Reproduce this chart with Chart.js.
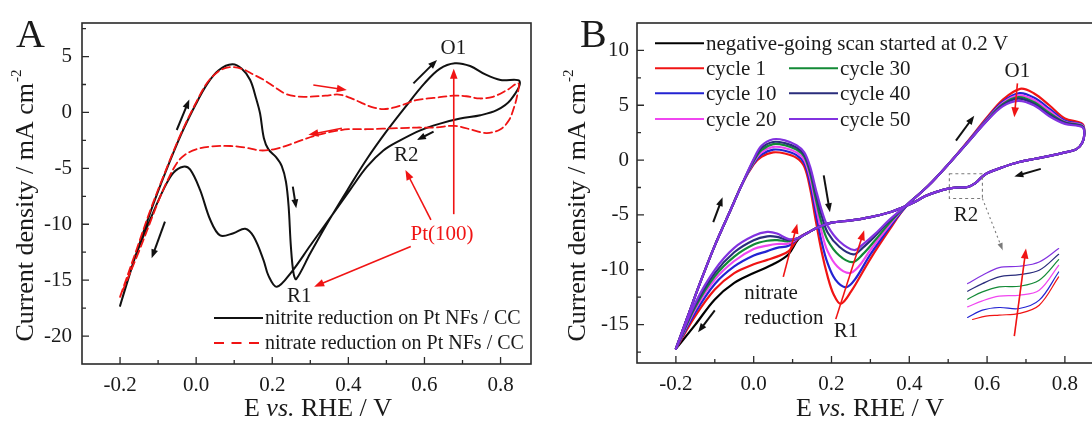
<!DOCTYPE html>
<html>
<head>
<meta charset="utf-8">
<script src="https://cdn.jsdelivr.net/npm/chart.js@4.4.0/dist/chart.umd.min.js"></script>
<style>
  html, body { margin: 0; padding: 0; background: #fff; overflow: hidden; width: 1092px; height: 421px; }
  #cvA { position: absolute; left: 0; top: 0; }
  #cvB { position: absolute; left: 546px; top: 0; }
</style>
</head>
<body>
<canvas id="cvA" width="546" height="421"></canvas>
<canvas id="cvB" width="560" height="421"></canvas>
<script>
// ---- axis ticks (shared by both panels) ----
const xTicks = [-0.2, 0, 0.2, 0.4, 0.6, 0.8];
const xMinor = [-0.1, 0.1, 0.3, 0.5, 0.7];
const yTicksA = [-20, -15, -10, -5, 0, 5];
const yMinorA = [-17.5, -12.5, -7.5, -2.5, 2.5, 7.5];
const yTicksB = [-15, -10, -5, 0, 5, 10];
const yMinorB = [-17.5, -12.5, -7.5, -2.5, 2.5, 7.5];

// ---- panel A: E (V vs RHE), j (mA cm-2) ----
const namesA = ["nitrite reduction on Pt NFs / CC", "nitrate reduction on Pt NFs / CC"];
const nitriteA = [
  [-0.2, -17.3], [-0.16, -12.9], [-0.12, -8.9], [-0.08, -5.3], [-0.04, -2.0], [0.0, 0.8],
  [0.03, 2.6], [0.06, 3.8], [0.095, 4.3], [0.12, 3.9], [0.142, 2.9], [0.158, 1.2], [0.168, -0.1],
  [0.178, -2.3], [0.19, -3.3], [0.21, -4.0], [0.225, -4.8], [0.236, -6.2], [0.243, -8.4],
  [0.249, -12.0], [0.256, -14.4], [0.263, -14.9], [0.3, -12.6], [0.35, -9.6], [0.4, -6.8],
  [0.45, -4.1], [0.5, -1.7], [0.55, 0.5], [0.6, 2.6], [0.64, 3.9], [0.68, 4.4], [0.72, 4.15],
  [0.76, 3.4], [0.8, 2.9], [0.85, 2.8],
  [0.826, 1.1], [0.79, 0.2], [0.747, -0.25], [0.694, -0.55], [0.641, -1.0], [0.589, -1.6],
  [0.536, -2.5], [0.492, -3.4], [0.449, -4.85], [0.405, -6.9], [0.361, -9.0], [0.3, -11.9],
  [0.25, -14.3], [0.212, -15.6], [0.19, -14.6], [0.177, -13.2], [0.151, -11.1], [0.129, -10.4],
  [0.098, -10.8], [0.063, -11.0], [0.037, -9.6], [0.01, -6.9], [-0.016, -5.1], [-0.034, -4.85],
  [-0.06, -5.4], [-0.086, -6.9], [-0.121, -9.6], [-0.165, -13.4], [-0.2, -17.3]
];
const nitrateA = [
  [-0.2, -16.5], [-0.16, -12.6], [-0.12, -8.7], [-0.08, -5.2], [-0.04, -1.9], [0.0, 0.9],
  [0.03, 2.7], [0.06, 3.7], [0.088, 4.05], [0.12, 3.9], [0.15, 3.4], [0.178, 2.9], [0.205, 2.3],
  [0.233, 1.7], [0.26, 1.45], [0.29, 1.4], [0.34, 1.5], [0.375, 1.6], [0.405, 1.3], [0.432, 0.9],
  [0.46, 0.5], [0.49, 0.3], [0.515, 0.4], [0.545, 0.7], [0.578, 1.1], [0.624, 1.3], [0.677, 1.5],
  [0.71, 1.45], [0.745, 1.25], [0.78, 1.4], [0.817, 2.0], [0.847, 2.6],
  [0.843, 1.4], [0.834, 0.3], [0.822, -0.7], [0.8, -1.5], [0.764, -1.85], [0.73, -1.6],
  [0.68, -1.2], [0.63, -1.35], [0.58, -1.35], [0.536, -1.4], [0.49, -1.45], [0.449, -1.5],
  [0.4, -1.5], [0.36, -1.7], [0.31, -2.1], [0.26, -2.7], [0.21, -3.25], [0.17, -3.4],
  [0.13, -3.15], [0.09, -3.0], [0.04, -3.05], [0.0, -3.3], [-0.03, -3.8], [-0.05, -4.5],
  [-0.077, -6.2], [-0.1, -8.0], [-0.15, -12.4], [-0.2, -16.5]
];

// ---- panel B ----
const namesB = ["negative-going scan started at 0.2 V", "cycle 1", "cycle 10", "cycle 20",
  "cycle 30", "cycle 40", "cycle 50"];
const riseB = [[-0.2, -17.2], [-0.17, -14.3], [-0.14, -11.4], [-0.1, -7.8], [-0.06, -4.6], [-0.03, -2.2]];
const returnB = [
  [0.85, 2.4], [0.845, 1.6], [0.83, 1.0], [0.8, 0.7], [0.77, 0.45], [0.72, 0.1], [0.68, -0.2],
  [0.64, -0.65], [0.6, -1.2], [0.585, -1.6], [0.57, -2.1], [0.55, -2.45], [0.525, -2.5],
  [0.5, -2.6], [0.47, -2.9], [0.44, -3.3], [0.415, -3.8], [0.39, -4.2], [0.35, -4.75],
  [0.3, -5.2], [0.25, -5.5], [0.2, -5.7], [0.17, -6.05], [0.14, -6.6], [0.115, -7.1]
];
const c1Up = [[0.0, -0.4], [0.02, 0.3], [0.05, 0.7], [0.08, 0.6], [0.11, 0.2], [0.13, -0.6], [0.145, -2.6],
  [0.16, -5.6], [0.175, -8.4], [0.19, -10.6], [0.205, -12.2], [0.224, -13.1], [0.25, -12.0], [0.3, -9.0],
  [0.35, -6.3], [0.39, -4.3], [0.45, -2.3], [0.5, -0.4], [0.55, 1.7], [0.6, 3.9], [0.64, 5.5],
  [0.685, 6.5], [0.72, 6.1], [0.76, 5.0], [0.8, 3.8], [0.845, 3.3]];
const c10Up = [[0.0, -0.3], [0.02, 0.5], [0.05, 0.95], [0.08, 0.85], [0.11, 0.45], [0.13, -0.3], [0.145, -2.1],
  [0.16, -4.9], [0.175, -7.5], [0.19, -9.4], [0.21, -10.9], [0.237, -11.6], [0.26, -10.9], [0.3, -8.6],
  [0.35, -6.1], [0.39, -4.3], [0.45, -2.3], [0.5, -0.4], [0.55, 1.65], [0.6, 3.8], [0.64, 5.3],
  [0.683, 6.1], [0.72, 5.7], [0.76, 4.7], [0.8, 3.6], [0.845, 3.2]];
const c20Up = [[0.0, -0.2], [0.02, 0.7], [0.05, 1.2], [0.08, 1.1], [0.11, 0.7], [0.13, 0.0], [0.145, -1.6],
  [0.16, -4.2], [0.175, -6.6], [0.19, -8.3], [0.215, -9.7], [0.246, -10.3], [0.27, -9.7], [0.3, -8.2],
  [0.35, -5.9], [0.39, -4.2], [0.45, -2.3], [0.5, -0.4], [0.55, 1.6], [0.6, 3.7], [0.64, 5.2],
  [0.682, 5.9], [0.72, 5.5], [0.76, 4.5], [0.8, 3.5], [0.845, 3.15]];
const c30Up = [[0.0, -0.1], [0.02, 0.9], [0.05, 1.45], [0.08, 1.35], [0.11, 0.95], [0.13, 0.3], [0.145, -1.2],
  [0.16, -3.6], [0.175, -5.8], [0.19, -7.3], [0.22, -8.7], [0.254, -9.3], [0.28, -8.6], [0.31, -7.4],
  [0.35, -5.7], [0.39, -4.2], [0.45, -2.3], [0.5, -0.4], [0.55, 1.6], [0.6, 3.65], [0.64, 5.1],
  [0.681, 5.75], [0.72, 5.3], [0.76, 4.3], [0.8, 3.45], [0.845, 3.1]];
const c40Up = [[0.0, 0.0], [0.02, 1.1], [0.05, 1.65], [0.08, 1.55], [0.11, 1.15], [0.13, 0.5], [0.145, -0.9],
  [0.16, -3.1], [0.175, -5.1], [0.19, -6.6], [0.22, -7.9], [0.256, -8.6], [0.28, -8.0], [0.31, -7.0],
  [0.35, -5.5], [0.39, -4.2], [0.45, -2.3], [0.5, -0.4], [0.55, 1.6], [0.6, 3.6], [0.64, 5.0],
  [0.68, 5.6], [0.72, 5.15], [0.76, 4.15], [0.8, 3.4], [0.845, 3.05]];
const c50Up = [[0.0, 0.1], [0.02, 1.3], [0.05, 1.9], [0.08, 1.8], [0.11, 1.35], [0.13, 0.7], [0.145, -0.6],
  [0.16, -2.7], [0.175, -4.6], [0.19, -6.0], [0.22, -7.4], [0.258, -8.2], [0.28, -7.7], [0.31, -6.8],
  [0.35, -5.4], [0.39, -4.2], [0.45, -2.3], [0.5, -0.4], [0.55, 1.6], [0.6, 3.6], [0.64, 4.9],
  [0.68, 5.4], [0.72, 5.0], [0.76, 4.0], [0.8, 3.3], [0.845, 3.0]];
const c1Low = [[0.09, -8.3], [0.06, -8.8], [0.035, -9.1], [0.0, -9.5], [-0.05, -10.3], [-0.1, -11.8], [-0.15, -14.2], [-0.2, -17.2]];
const c10Low = [[0.09, -7.8], [0.06, -8.0], [0.035, -8.3], [0.0, -8.7], [-0.05, -9.7], [-0.1, -11.3], [-0.15, -13.9], [-0.2, -17.2]];
const c20Low = [[0.09, -7.6], [0.06, -7.65], [0.035, -7.8], [0.0, -8.1], [-0.05, -9.2], [-0.1, -10.9], [-0.15, -13.6], [-0.2, -17.2]];
const c30Low = [[0.09, -7.4], [0.06, -7.3], [0.035, -7.35], [0.0, -7.7], [-0.05, -8.8], [-0.1, -10.6], [-0.15, -13.4], [-0.2, -17.2]];
const c40Low = [[0.09, -7.3], [0.06, -7.0], [0.035, -6.95], [0.0, -7.3], [-0.05, -8.4], [-0.1, -10.3], [-0.15, -13.2], [-0.2, -17.2]];
const c50Low = [[0.09, -7.2], [0.06, -6.7], [0.035, -6.55], [0.0, -6.9], [-0.05, -8.0], [-0.1, -10.0], [-0.15, -13.0], [-0.2, -17.2]];
const blackScanB = [[0.2, -5.7], [0.17, -6.05], [0.14, -6.6], [0.115, -7.2], [0.089, -8.6], [0.05, -9.5],
  [0.0, -10.3], [-0.05, -11.2], [-0.1, -12.7], [-0.15, -15.0], [-0.2, -17.2]];
// zoomed R2 region drawn as an inset inside panel B
const inset1 = [[0.5625, -14.53], [0.597, -14.23], [0.631, -14.13], [0.683, -13.98], [0.734, -13.23], [0.784, -10.65]];
const inset10 = [[0.55, -14.35], [0.588, -13.68], [0.631, -13.44], [0.683, -13.53], [0.734, -12.77], [0.784, -10.2]];
const inset20 = [[0.55, -13.38], [0.588, -12.83], [0.631, -12.41], [0.683, -12.32], [0.734, -11.86], [0.784, -9.59]];
const inset30 = [[0.55, -12.68], [0.588, -12.02], [0.631, -11.56], [0.683, -11.5], [0.734, -10.95], [0.784, -9.08]];
const inset40 = [[0.55, -11.95], [0.588, -11.26], [0.631, -10.65], [0.683, -10.44], [0.734, -10.05], [0.784, -8.59]];
const inset50 = [[0.55, -11.26], [0.588, -10.5], [0.631, -9.8], [0.683, -9.68], [0.734, -9.29], [0.784, -8.07]];

const serif = '"Liberation Serif", "Times New Roman", serif';
const ink = "#1a1a1a";
const red = "#f01414";
const colorsB = ["#000000", "#f01414", "#2323d2", "#f046f0", "#138a36", "#2a2d7c", "#8232e0"];

const pts = (arr) => arr.map(([x, y]) => ({ x, y }));

const arrow = (ctx, x1, y1, x2, y2, color, lw, head) => {
  const ang = Math.atan2(y2 - y1, x2 - x1);
  const c = Math.cos(ang), s = Math.sin(ang);
  ctx.strokeStyle = color;
  ctx.fillStyle = color;
  ctx.lineWidth = lw;
  ctx.beginPath();
  ctx.moveTo(x1, y1);
  ctx.lineTo(x2 - c * head * 0.7, y2 - s * head * 0.7);
  ctx.stroke();
  ctx.beginPath();
  ctx.moveTo(x2, y2);
  ctx.lineTo(x2 - head * c + head * 0.38 * s, y2 - head * s - head * 0.38 * c);
  ctx.lineTo(x2 - head * c - head * 0.38 * s, y2 - head * s + head * 0.38 * c);
  ctx.closePath();
  ctx.fill();
};

const drawYTitle = (ctx, bx, cy) => {
  ctx.save();
  ctx.translate(bx, cy);
  ctx.rotate(-Math.PI / 2);
  ctx.fillStyle = ink;
  ctx.textAlign = "left";
  ctx.textBaseline = "alphabetic";
  const main = "Current density / mA cm";
  ctx.font = "26px " + serif;
  const w1 = ctx.measureText(main).width;
  ctx.font = "15px " + serif;
  const w2 = ctx.measureText("-2").width;
  const start = -(w1 + w2) / 2;
  ctx.font = "26px " + serif;
  ctx.fillText(main, start, 0);
  ctx.font = "15px " + serif;
  ctx.fillText("-2", start + w1 + 1, -12);
  ctx.restore();
};

const drawXTitle = (ctx, cx, by) => {
  const parts = [["E ", ""], ["vs.", "italic "], [" RHE / V", ""]];
  let w = 0;
  parts.forEach(([s, st]) => { ctx.font = st + "26px " + serif; w += ctx.measureText(s).width; });
  let x = cx - w / 2;
  ctx.fillStyle = ink;
  ctx.textAlign = "left";
  ctx.textBaseline = "alphabetic";
  parts.forEach(([s, st]) => {
    ctx.font = st + "26px " + serif;
    ctx.fillText(s, x, by);
    x += ctx.measureText(s).width;
  });
};

// frame, inward ticks, titles, legend and the arrows/labels of each panel
const makeDecor = (cfg) => ({
  id: "decor",
  afterDraw(chart) {
    const { ctx, chartArea: a, scales } = chart;
    const X = (v) => scales.x.getPixelForValue(v);
    const Y = (v) => scales.y.getPixelForValue(v);
    ctx.save();
    ctx.strokeStyle = "#2a2a2a";
    ctx.lineWidth = 1.6;
    ctx.strokeRect(a.left, a.top, a.right - a.left, a.bottom - a.top);
    ctx.lineWidth = 1.3;
    ctx.beginPath();
    xTicks.forEach((v) => { ctx.moveTo(X(v), a.bottom); ctx.lineTo(X(v), a.bottom - 7); });
    xMinor.forEach((v) => { ctx.moveTo(X(v), a.bottom); ctx.lineTo(X(v), a.bottom - 4); });
    cfg.yMajor.forEach((v) => { ctx.moveTo(a.left, Y(v)); ctx.lineTo(a.left + 7, Y(v)); });
    cfg.yMinor.forEach((v) => { ctx.moveTo(a.left, Y(v)); ctx.lineTo(a.left + 4, Y(v)); });
    ctx.stroke();

    drawYTitle(ctx, cfg.yTitle[0], cfg.yTitle[1]);
    drawXTitle(ctx, cfg.xTitle[0], cfg.xTitle[1]);
    ctx.fillStyle = ink;
    ctx.font = "40px " + serif;
    ctx.textAlign = "left";
    ctx.textBaseline = "alphabetic";
    ctx.fillText(cfg.letter[0], cfg.letter[1], cfg.letter[2]);

    if (cfg.box) {
      const [v1, j1, v2, j2] = cfg.box;
      ctx.setLineDash([3, 3]);
      ctx.strokeStyle = "#7a7a7a";
      ctx.lineWidth = 1.1;
      ctx.strokeRect(X(v1), Y(j1), X(v2) - X(v1), Y(j2) - Y(j1));
      ctx.setLineDash([2, 3]);
      const [p1, q1, p2, q2] = cfg.dotted;
      ctx.beginPath();
      ctx.moveTo(X(p1), Y(q1));
      ctx.lineTo(X(p2), Y(q2));
      ctx.stroke();
      ctx.setLineDash([]);
      arrow(ctx, X(p2) - 2, Y(q2) - 5, X(p2), Y(q2), "#7a7a7a", 1, 7);
    }

    cfg.arrows.forEach(([v1, j1, v2, j2, col]) => {
      const black = col === "k";
      arrow(ctx, X(v1), Y(j1), X(v2), Y(j2), black ? "#111" : red, black ? 2 : 1.6, black ? 9 : 10);
    });
    cfg.labels.forEach(([s, v, j, col, align]) => {
      ctx.fillStyle = col === "r" ? red : ink;
      ctx.font = "21px " + serif;
      ctx.textAlign = align || "center";
      ctx.textBaseline = "middle";
      ctx.fillText(s, X(v), Y(j));
    });

    // legend from the datasets
    ctx.font = cfg.legendFont + "px " + serif;
    ctx.textAlign = "left";
    ctx.textBaseline = "middle";
    cfg.legend.forEach(([idx, col, row]) => {
      const ds = chart.data.datasets[idx];
      const lx = a.left + cfg.legendCols[col];
      const ly = a.top + cfg.legendRows[row];
      ctx.strokeStyle = ds.borderColor;
      ctx.lineWidth = 2;
      ctx.setLineDash(ds.borderDash ? [10, 7.5] : []);
      ctx.beginPath();
      ctx.moveTo(lx, ly);
      ctx.lineTo(lx + (ds.borderDash ? 45 : 49), ly);
      ctx.stroke();
      ctx.setLineDash([]);
      ctx.fillStyle = ink;
      ctx.fillText(ds.label, lx + 51, ly + 1);
    });
    ctx.restore();
  }
});

const scalesFor = (ymin, ymax, yMajor, yWidth, xHeight, yPad) => ({
  x: {
    type: "linear", min: -0.3, max: 0.88,
    grid: { display: false, drawTicks: false },
    border: { display: false },
    ticks: { font: { family: serif, size: 21 }, color: ink, padding: 9, maxRotation: 0, autoSkip: false,
      callback: (v) => v.toFixed(1) },
    afterBuildTicks: (s) => { s.ticks = xTicks.map((v) => ({ value: v })); },
    afterFit: (s) => { s.height = xHeight; }
  },
  y: {
    type: "linear", min: ymin, max: ymax,
    grid: { display: false, drawTicks: false },
    border: { display: false },
    ticks: { font: { family: serif, size: 21 }, color: ink, padding: yPad, autoSkip: false,
      callback: (v) => String(v) },
    afterBuildTicks: (s) => { s.ticks = yMajor.map((v) => ({ value: v })); },
    afterFit: (s) => { s.width = yWidth; }
  }
});

const line = (label, data, color, width, extra) => Object.assign({
  label, data: pts(data), showLine: true, borderColor: color, backgroundColor: color,
  borderWidth: width, pointRadius: 0, tension: 0.35, fill: false,
  borderCapStyle: "round", borderJoinStyle: "round"
}, extra || {});

const drawPanelA = () => {
  new Chart(document.getElementById("cvA"), {
    type: "scatter",
    data: {
      datasets: [
        line(namesA[1], nitrateA, red, 1.8, { borderDash: [8, 4] }),
        line(namesA[0], nitriteA, "#111", 2)
      ]
    },
    options: {
      responsive: false, animation: false, events: [],
      layout: { padding: { left: 0, top: 23, right: 15, bottom: 0 } },
      plugins: { legend: { display: false }, tooltip: { enabled: false } },
      scales: scalesFor(-22.5, 8, yTicksA, 82, 57, 10)
    },
    plugins: [makeDecor({
      yMajor: yTicksA, yMinor: yMinorA,
      yTitle: [33, 206], xTitle: [318, 416], letter: ["A", 16, 47],
      arrows: [
        [-0.051, -1.57, -0.018, 1.15, "k"], [-0.082, -9.77, -0.117, -13.05, "k"],
        [0.254, -6.64, 0.263, -8.58, "k"], [0.571, 2.6, 0.633, 4.7, "k"], [0.624, -1.72, 0.58, -2.47, "k"],
        [0.308, 2.45, 0.396, 2.0, "r"], [0.383, -1.42, 0.295, -2.0, "r"],
        [0.677, -9.1, 0.677, 3.9, "r"], [0.617, -9.6, 0.55, -5.15, "r"], [0.564, -12.0, 0.31, -15.58, "r"]
      ],
      labels: [["O1", 0.676, 5.74], ["R2", 0.552, -3.88], ["R1", 0.271, -16.5], ["Pt(100)", 0.646, -10.96, "r"]],
      legendFont: 20, legendCols: [132], legendRows: [295, 320],
      legend: [[1, 0, 0], [0, 0, 1]]
    })]
  });
};

const drawPanelB = () => {
  const cycles = [
    [namesB[6], c50Up, c50Low, colorsB[6]], [namesB[5], c40Up, c40Low, colorsB[5]],
    [namesB[4], c30Up, c30Low, colorsB[4]], [namesB[3], c20Up, c20Low, colorsB[3]],
    [namesB[2], c10Up, c10Low, colorsB[2]], [namesB[1], c1Up, c1Low, colorsB[1]]
  ];
  const datasets = cycles.map(([name, up, low, col]) =>
    line(name, [...riseB, ...up, ...returnB, ...low], col, 2.2));
  datasets.push(line(namesB[0], blackScanB, colorsB[0], 2.2));
  [inset50, inset40, inset30, inset20, inset10, inset1].forEach((d, i) =>
    datasets.push(line("", d, colorsB[6 - i], 1.2)));

  new Chart(document.getElementById("cvB"), {
    type: "scatter",
    data: { datasets },
    options: {
      responsive: false, animation: false, events: [],
      layout: { padding: { left: 0, top: 23, right: 10, bottom: 0 } },
      plugins: { legend: { display: false }, tooltip: { enabled: false } },
      scales: scalesFor(-18.5, 12.5, yTicksB, 91, 58, 8)
    },
    plugins: [makeDecor({
      yMajor: yTicksB, yMinor: yMinorB,
      yTitle: [39, 206], xTitle: [324, 416], letter: ["B", 34, 47],
      box: [0.503, -1.25, 0.588, -3.5], dotted: [0.588, -3.5, 0.64, -8.2],
      arrows: [
        [-0.104, -5.65, -0.08, -3.38, "k"], [-0.1, -13.7, -0.143, -15.7, "k"],
        [0.18, -1.4, 0.196, -4.75, "k"], [0.52, 1.77, 0.567, 4.05, "k"], [0.738, -0.8, 0.67, -1.5, "k"],
        [0.076, -10.65, 0.112, -5.8, "r"], [0.211, -14.5, 0.284, -6.4, "r"],
        [0.678, 7.0, 0.67, 3.9, "r"], [0.67, -16.05, 0.70, -8.07, "r"]
      ],
      labels: [["O1", 0.678, 8.1], ["R2", 0.546, -5.05], ["R1", 0.237, -15.65],
        ["nitrate", -0.0244, -12.2, "k", "left"], ["reduction", -0.0244, -14.4, "k", "left"]],
      legendFont: 21, legendCols: [18, 152], legendRows: [20.3, 45.3, 70.3, 96],
      legend: [[6, 0, 0], [5, 0, 1], [4, 0, 2], [3, 0, 3], [2, 1, 1], [1, 1, 2], [0, 1, 3]]
    })]
  });
};

drawPanelA();
drawPanelB();
</script>
</body>
</html>
